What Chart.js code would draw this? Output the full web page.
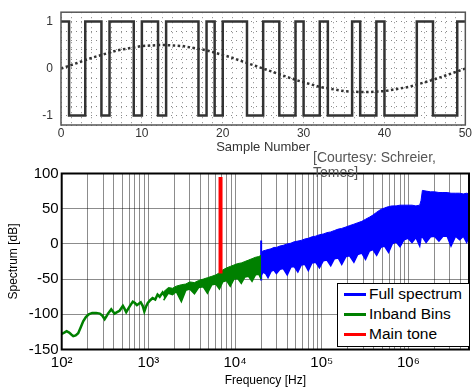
<!DOCTYPE html>
<html>
<head>
<meta charset="utf-8">
<script src="https://cdn.jsdelivr.net/npm/chart.js@4/dist/chart.umd.min.js"></script>
<style>
  html, body { margin: 0; padding: 0; background: #fff; }
  #wrap { position: relative; width: 473px; height: 388px; overflow: hidden;
          font-family: "Liberation Sans", Arial, sans-serif; }
  #top { position: absolute; left: 0; top: -3px; }
  #bottom { position: absolute; left: 0; top: 160px; }
  #courtesy { position: absolute; left: 313px; top: 150px; font-size: 14px;
              line-height: 15px; color: #555; white-space: nowrap; }
  #legend { position: absolute; left: 337px; top: 283px; width: 131px; height: 62px;
            border: 1px solid #000; background: #fff; font-size: 15.5px; color: #000; }
  #legend .row { position: absolute; left: 0; height: 20px; line-height: 20px; white-space: nowrap; }
  #legend .sw { position: absolute; left: 6px; top: 9px; width: 22px; height: 3px; }
  #legend .tx { position: absolute; left: 31px; top: 0; }
</style>
</head>
<body>
<div id="wrap">
  <canvas id="top" width="473" height="163"></canvas>
  <canvas id="bottom" width="473" height="228"></canvas>
  <div id="courtesy">[Courtesy: Schreier,<br>Temes]</div>
  <div id="legend">
    <div class="row" style="top:0px"><span class="sw" style="background:#0000ff"></span><span class="tx">Full spectrum</span></div>
    <div class="row" style="top:20px"><span class="sw" style="background:#008000"></span><span class="tx">Inband Bins</span></div>
    <div class="row" style="top:40px"><span class="sw" style="background:#ff0000"></span><span class="tx">Main tone</span></div>
  </div>
</div>
<script>
// ---- top plot: 1-bit output and its input sine ----
const sampleNumbers = [0,1,2,3,4,5,6,7,8,9,10,11,12,13,14,15,16,17,18,19,20,21,22,23,24,25,
  26,27,28,29,30,31,32,33,34,35,36,37,38,39,40,41,42,43,44,45,46,47,48,49,50];
const bitstream = [1,-1,-1,1,1,-1,1,1,1,-1, 1,1,-1,1,1,1,1,-1,1,-1, 1,1,1,-1,-1,1,1,-1,-1,1,
  -1,-1,1,-1,-1,-1,1,-1,-1,1, -1,-1,-1,-1,1,1,-1,-1,-1,1, 1];
const inputSine = [0,0.06,0.12,0.18,0.24,0.29,0.34,0.39,0.42,0.45,0.48,0.49,0.50,
  0.50,0.49,0.48,0.45,0.42,0.39,0.34,0.29,0.24,0.18,0.12,0.06,0,
  -0.06,-0.12,-0.18,-0.24,-0.29,-0.34,-0.39,-0.42,-0.45,-0.48,-0.49,-0.50,
  -0.50,-0.49,-0.48,-0.45,-0.42,-0.39,-0.34,-0.29,-0.24,-0.18,-0.12,-0.06,0];
const sampleTickLabels = [0, 10, 20, 30, 40, 50];
const levelTickLabels = [-1, 0, 1];

// ---- bottom plot: spectrum ----
const inbandFreq = [100,107,114,122,130,136,145,155,165,177,190,205,225,250,275,295,313,328,342,373,
  390,408,435,465,508,530,555,580,606,661,700,737,775,816,860,898,940,985,1050,1120,1200,1276,1350,1460,1550];
const inbandDb = [-128,-126,-124,-126,-129,-131,-130,-127,-119,-110,-104,-100,-98,-98,-99,-102,-107,-103,-99,-93,
  -96,-99,-97,-95,-88,-92,-97,-93,-89,-82,-84,-87,-85,-83,-88,-96,-89,-84,-80,-77,-79,-72,-75,-69,-74];

const inbandBandFreq = [1500,1700,1900,2100,2400,2700,3000,3400,3800,4300,4800,5400,6000,6600,7200,8000,
  8800,9700,10700,11800,13000,14300,15700,17200,18800,20000];
const inbandUpperDb = [-68,-62,-63,-60,-58,-57,-54,-55,-52,-50,-48,-46,-44,-41,-37,-34,
  -32,-30,-28,-27,-25,-23,-21,-19,-18,-16];
const inbandLowerDb = [-80,-70,-72,-68,-82,-66,-64,-71,-62,-61,-70,-58,-57,-64,-54,-52,
  -60,-50,-49,-56,-47,-46,-53,-44,-43,-50];

const fullFreq = [20000,21000,22500,24000,26000,28000,30000,33000,36000,40000,
  44000,48000,53000,58000,64000,70000,77000,85000,94000,104000,
  115000,127000,140000,155000,170000,190000,210000,235000,260000,290000,
  320000,355000,390000,430000,480000,530000,590000,650000,720000,800000,
  890000,990000,1100000,1220000,1350000,1400000,1450000,1600000,1800000,2000000,
  2250000,2500000,2800000,3100000,3500000,3900000,4300000,4700000,5000000];
const fullUpperDb = [-12,-10,-9,-8,-7,-5,-5,-3,-2,0,
  1,3,4,5,7,8,10,11,13,14,
  16,17,19,21,22,24,26,28,30,32,
  35,38,41,45,49,51,53,54,54,55,
  55,55,55,54,55,62,76,75,74,74,
  73,73,73,72,72,72,71,72,71];
const fullLowerDb = [-45,-40,-42,-48,-39,-37,-42,-36,-35,-44,
  -33,-32,-40,-30,-29,-38,-27,-26,-34,-24,
  -23,-31,-21,-20,-29,-18,-17,-26,-15,-13,
  -22,-10,-8,-16,-5,-3,-12,0,3,-4,
  6,8,2,9,-3,9,10,2,10,11,
  4,11,11,-3,11,6,11,2,10];

const bandEdgeFreq = [20000, 20000];
const bandEdgeDb = [-52, 5];
const toneFreq = [6800, 6800];
const toneDb = [-42, 95];

const decadeValues = [1e2, 1e3, 1e4, 1e5, 1e6];
const decadeLabels = ['10\u00B2', '10\u00B3', '10\u2074', '10\u2075', '10\u2076'];
const decadeSteps = [1, 2, 3, 4, 5, 6, 7, 8, 9];
const freqMax = 5e6;

const FONT = '"Liberation Sans", Arial, sans-serif';
Chart.defaults.font.family = FONT;

const pts = (xs, ys) => xs.map((x, i) => ({x: x, y: ys[i]}));

function frame(color, width) {
  return {
    id: 'frame',
    afterDraw(chart) {
      const {ctx, chartArea: a} = chart;
      ctx.save();
      ctx.strokeStyle = color;
      ctx.lineWidth = width;
      ctx.strokeRect(a.left, a.top, a.right - a.left, a.bottom - a.top);
      ctx.restore();
    }
  };
}

// top chart
new Chart(document.getElementById('top'), {
  type: 'line',
  data: {
    datasets: [{
      data: pts(sampleNumbers, bitstream),
      borderColor: '#333',
      borderWidth: 2.5,
      stepped: true,
      pointRadius: 0
    }, {
      data: pts(sampleNumbers, inputSine),
      borderColor: '#333',
      borderWidth: 2.5,
      borderDash: [2.5, 2.5],
      pointRadius: 0
    }]
  },
  options: {
    responsive: false,
    animation: false,
    layout: {padding: {top: 8, right: 7, left: 0, bottom: 0}},
    plugins: {legend: {display: false}, tooltip: {enabled: false}},
    scales: {
      x: {
        type: 'linear', min: 0, max: 50,
        ticks: {
          stepSize: 1.25, autoSkip: false, maxRotation: 0, padding: 1,
          color: '#333', font: {size: 12},
          callback: v => (sampleTickLabels.includes(v) ? String(v) : '')
        },
        grid: {color: '#8a8a8a', lineWidth: 1, drawTicks: false},
        border: {display: false, dash: [1, 4]},
        title: {display: true, text: 'Sample Number', color: '#333', font: {size: 13},
                padding: {top: 0, bottom: 5}},
        afterFit: s => { s.height = 35; }
      },
      y: {
        min: -1.2, max: 1.2,
        ticks: {
          stepSize: 0.2, autoSkip: false, padding: 8, color: '#333', font: {size: 12},
          callback: v => {
            const r = Math.round(v);
            return (Math.abs(v - r) < 1e-6 && levelTickLabels.includes(r)) ? String(r) : '';
          }
        },
        grid: {color: '#8a8a8a', lineWidth: 1, drawTicks: false},
        border: {display: false, dash: [1, 4]},
        afterFit: s => { s.width = 61; }
      }
    }
  },
  plugins: [frame('#555', 1.5)]
});

// bottom chart
const freqGrid = [];
decadeValues.forEach(d => decadeSteps.forEach(k => { if (d * k <= freqMax) freqGrid.push(d * k); }));
freqGrid.push(freqMax);

new Chart(document.getElementById('bottom'), {
  type: 'line',
  data: {
    datasets: [{
      data: pts(toneFreq, toneDb), borderColor: '#ff0000', borderWidth: 4, pointRadius: 0
    }, {
      data: pts(inbandFreq, inbandDb), borderColor: '#008000', borderWidth: 2.5, pointRadius: 0
    }, {
      data: pts(inbandBandFreq, inbandUpperDb), borderColor: '#008000', borderWidth: 1,
      backgroundColor: '#008000', fill: 3, pointRadius: 0
    }, {
      data: pts(inbandBandFreq, inbandLowerDb), borderColor: '#008000', borderWidth: 1.5, pointRadius: 0
    }, {
      data: pts(bandEdgeFreq, bandEdgeDb), borderColor: '#0000ff', borderWidth: 2, pointRadius: 0
    }, {
      data: pts(fullFreq, fullUpperDb), borderColor: '#0000ff', borderWidth: 1,
      backgroundColor: '#0000ff', fill: 6, pointRadius: 0
    }, {
      data: pts(fullFreq, fullLowerDb), borderColor: '#0000ff', borderWidth: 1.5, pointRadius: 0
    }]
  },
  options: {
    responsive: false,
    animation: false,
    layout: {padding: {top: 13.5, right: 2.3, left: 0, bottom: 0}},
    plugins: {legend: {display: false}, tooltip: {enabled: false}},
    scales: {
      x: {
        type: 'logarithmic', min: 100, max: freqMax,
        afterBuildTicks: s => { s.ticks = freqGrid.map(v => ({value: v})); },
        ticks: {
          autoSkip: false, maxRotation: 0, padding: 4, color: '#000', font: {size: 15},
          callback: v => {
            const i = decadeValues.indexOf(v);
            return i >= 0 ? decadeLabels[i] : '';
          }
        },
        grid: {color: 'rgba(0,0,0,0.45)', lineWidth: 1, drawTicks: false},
        border: {display: false},
        title: {display: true, text: 'Frequency [Hz]', color: '#000', font: {size: 12},
                padding: {top: 0, bottom: 0}},
        afterFit: s => { s.height = 38.5; }
      },
      y: {
        min: -150, max: 100,
        ticks: {stepSize: 50, padding: 3, color: '#000', font: {size: 15}},
        grid: {color: 'rgba(0,0,0,0.45)', lineWidth: 1, drawTicks: false},
        border: {display: false},
        title: {display: true, text: 'Spectrum [dB]', color: '#000', font: {size: 12},
                padding: {top: 6, bottom: 0}},
        afterFit: s => { s.width = 61.7; }
      }
    }
  },
  plugins: [frame('#000', 2)]
});
</script>
</body>
</html>
